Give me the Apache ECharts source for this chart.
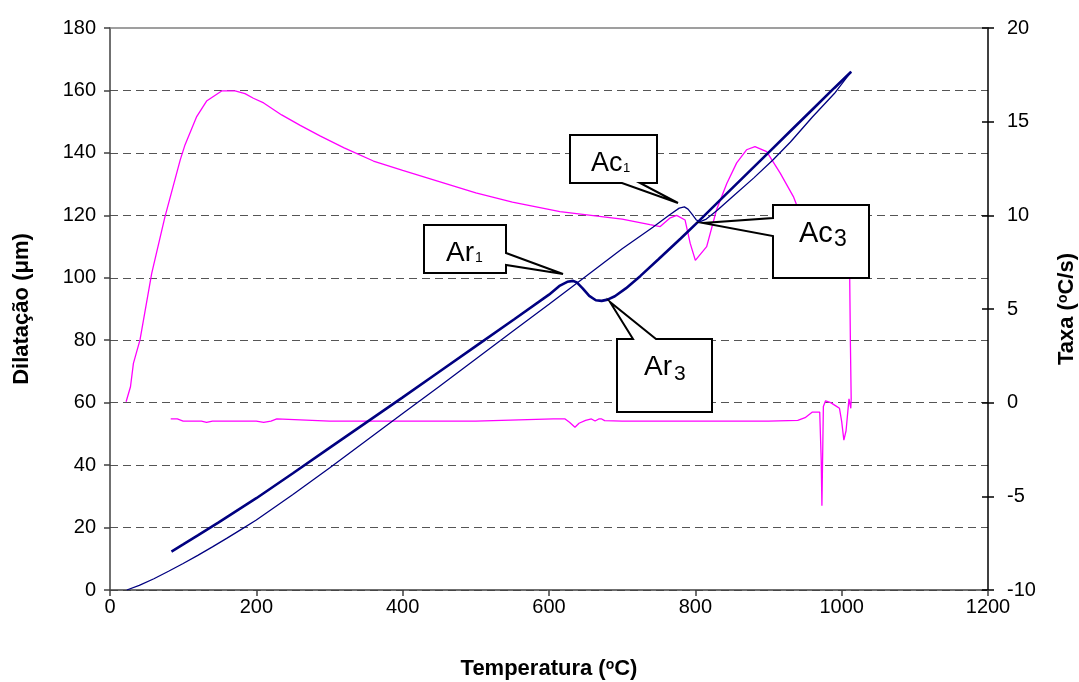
<!DOCTYPE html>
<html>
<head>
<meta charset="utf-8">
<script src="https://cdn.jsdelivr.net/npm/echarts@6/dist/echarts.min.js"></script>
<style>
    html,body{margin:0;padding:0;background:#fff;}
    #chart{width:1079px;height:682px;}
</style>
</head>
<body>
<div id="chart"></div>
<script>
// 加热曲线 (细线)
var tempHeat = [23, 40, 60, 80, 100, 120, 140, 160, 180, 200, 250, 300, 350, 400, 450, 500, 550, 600, 633, 660, 700, 742, 765, 778, 785, 790, 796, 801, 806, 815, 830, 850, 880, 906, 930, 960, 990, 1013];
var dilHeat = [0, 1.5, 3.6, 6.0, 8.5, 11.1, 13.8, 16.6, 19.5, 22.4, 30.6, 39.1, 47.8, 56.5, 65.2, 74.0, 82.8, 91.5, 97.4, 102.2, 109.3, 116.2, 120.2, 122.3, 122.7, 122, 120.2, 118.6, 117.9, 118.8, 121.6, 125.8, 132, 137.7, 143.5, 151.5, 159, 166];
// 冷却曲线 (粗线)
var tempCool = [1013, 990, 960, 930, 900, 870, 840, 804, 780, 750, 725, 705, 690, 680, 672, 664, 655, 646, 638, 633, 625, 615, 600, 553, 500, 450, 400, 350, 300, 250, 200, 148, 120, 100, 84];
var dilCool = [166, 160.8, 153.9, 147, 140.1, 133.2, 126.3, 118, 112.6, 106, 100.6, 96.6, 94.1, 93, 92.6, 92.8, 94.2, 96.6, 98.5, 99, 98.7, 97.5, 94.6, 86.8, 78.1, 69.9, 61.7, 53.6, 45.5, 37.4, 29.4, 21.6, 17.5, 14.6, 12.3];
// 速率 (右轴): 加热段 + 冷却段
var tempRate = [22, 28, 32, 41, 57, 75, 96, 102.5, 118.5, 132, 152.6, 171, 184.5, 196, 210, 234.6, 260, 287, 320, 360, 400, 450, 500, 550, 615, 700, 738, 752, 765, 774.5, 786, 793, 800, 815.5, 829, 843, 856.5, 870, 881.5, 897.5, 916, 934, 938.5, 960, 985, 1000, 1011, 1012, 1013,
    1012.5, 1010, 1006, 1003, 1000, 997, 993, 985, 978, 975, 973, 972, 970, 960, 950, 940, 900, 800, 700, 676, 672, 668, 663, 658, 650, 641, 635.5, 628, 622, 606, 500, 400, 300, 228, 220, 210, 200, 140, 132, 125, 100, 92, 83];
var rate = [0.05, 0.85, 2.1, 3.35, 6.9, 9.9, 12.96, 13.76, 15.27, 16.1, 16.64, 16.64, 16.5, 16.25, 16.0, 15.36, 14.8, 14.24, 13.6, 12.9, 12.4, 11.8, 11.2, 10.7, 10.2, 9.8, 9.5, 9.4, 9.85, 10.0, 9.75, 8.5, 7.6, 8.33, 10.3, 11.7, 12.8, 13.5, 13.67, 13.4, 12.25, 11.0, 10.55, 9.6, 8.3, 7.4, 6.64, 3, 0.2,
    -0.3, 0.2, -1.5, -2.0, -1.0, -0.3, -0.2, 0.0, 0.1, -0.2, -5.5, -3.0, -0.5, -0.5, -0.8, -0.95, -0.98, -0.98, -0.98, -0.96, -0.87, -0.87, -0.98, -0.87, -0.95, -1.1, -1.31, -1.05, -0.87, -0.87, -0.98, -0.98, -0.98, -0.87, -0.98, -1.05, -0.98, -0.98, -1.05, -0.98, -0.98, -0.87, -0.87];

var xTicks = {min: 0, max: 1200, interval: 200};
var yLeftTicks = {min: 0, max: 180, interval: 20};
var yRightTicks = {min: -10, max: 20, interval: 5};

function pairs(xs, ys) {
    var out = [];
    for (var i = 0; i < xs.length; i++) {
        out.push([xs[i], ys[i]]);
    }
    return out;
}
function plain(v) { return String(v); }

var font = "'Liberation Sans', Arial, sans-serif";
var supStyle = {fontSize: 14, fontWeight: 'bold', fontFamily: font, color: '#000', verticalAlign: 'top', lineHeight: 14, padding: [0, 0, 8, 0]};
var myChart = echarts.init(document.getElementById('chart'));
var option = {
    animation: false,
    textStyle: {fontFamily: font},
    grid: {left: 110, right: 91, top: 28, bottom: 92, containLabel: false, outerBoundsMode: 'none'},
    xAxis: [{
        type: 'value',
        min: xTicks.min, max: xTicks.max, interval: xTicks.interval,
        axisLine: {show: true, onZero: false, lineStyle: {color: '#404040', width: 1.5}},
        axisTick: {show: true, length: 6, lineStyle: {color: '#404040', width: 1.5}},
        axisLabel: {fontSize: 20, color: '#000', margin: 7, fontFamily: font, formatter: plain},
        splitLine: {show: false},
        name: 'Temperatura ({sup|o}C)',
        nameLocation: 'middle',
        nameGap: 68,
        nameTextStyle: {fontSize: 22, fontWeight: 'bold', color: '#000', fontFamily: font, rich: {sup: supStyle}}
    }, {
        type: 'value', position: 'top',
        min: xTicks.min, max: xTicks.max,
        axisLine: {show: true, onZero: false, lineStyle: {color: '#808080', width: 1.5}},
        axisTick: {show: false}, axisLabel: {show: false}, splitLine: {show: false}
    }],
    yAxis: [{
        type: 'value',
        min: yLeftTicks.min, max: yLeftTicks.max, interval: yLeftTicks.interval,
        axisLine: {show: true, onZero: false, lineStyle: {color: '#404040', width: 1.5}},
        axisTick: {show: true, length: 6, lineStyle: {color: '#404040', width: 1.5}},
        axisLabel: {fontSize: 20, color: '#000', margin: 14, fontFamily: font, formatter: plain},
        splitLine: {show: true, showMaxLine: false, lineStyle: {color: '#555', width: 1, type: [8, 5]}},
        name: 'Dilatação (μm)',
        nameLocation: 'middle',
        nameGap: 77,
        nameTextStyle: {fontSize: 22, fontWeight: 'bold', color: '#000', fontFamily: font}
    }, {
        type: 'value', position: 'right',
        min: yRightTicks.min, max: yRightTicks.max, interval: yRightTicks.interval,
        axisLine: {show: true, onZero: false, lineStyle: {color: '#000', width: 1.5}},
        axisTick: {show: true, length: 6, lineStyle: {color: '#000', width: 1.5}},
        axisLabel: {fontSize: 20, color: '#000', margin: 19, fontFamily: font, formatter: plain},
        splitLine: {show: false},
        name: 'Taxa ({sup|o}C/s)',
        nameLocation: 'middle',
        nameGap: 68,
        nameTextStyle: {fontSize: 22, fontWeight: 'bold', color: '#000', fontFamily: font, rich: {sup: supStyle}}
    }, {
        // 右轴刻度向内的一半 (交叉刻度)
        type: 'value', position: 'right',
        min: yRightTicks.min, max: yRightTicks.max, interval: yRightTicks.interval,
        axisLine: {show: false, onZero: false},
        axisTick: {show: true, inside: true, length: 6, lineStyle: {color: '#000', width: 1.5}},
        axisLabel: {show: false},
        splitLine: {show: false}
    }],
    series: [{
        name: 'Taxa',
        type: 'line',
        yAxisIndex: 1,
        showSymbol: false,
        lineStyle: {color: '#FF00FF', width: 1.3},
        data: pairs(tempRate, rate)
    }, {
        name: 'Aquecimento',
        type: 'line',
        showSymbol: false,
        lineStyle: {color: '#000080', width: 1.3},
        data: pairs(tempHeat, dilHeat)
    }, {
        name: 'Resfriamento',
        type: 'line',
        showSymbol: false,
        lineStyle: {color: '#000080', width: 2.6},
        data: pairs(tempCool, dilCool)
    }]
};
myChart.setOption(option);

// 标注框 (Ac1, Ac3, Ar1, Ar3)
function callout(points, parts) {
    var els = [{
        type: 'polygon', z: 100,
        shape: {points: points},
        style: {fill: '#fff', stroke: '#000', lineWidth: 2}
    }];
    parts.forEach(function (p) {
        els.push({
            type: 'text', z: 101,
            style: {x: p[0], y: p[1], text: p[2], fontSize: p[3], fontFamily: font, fill: '#000', align: 'left', verticalAlign: 'middle'}
        });
    });
    return els;
}
var graphics = [].concat(
    callout([[570, 135], [657, 135], [657, 183], [640, 183], [678, 203], [622, 183], [570, 183]],
        [[591, 164, 'Ac', 27], [623, 168.5, '1', 13]]),
    callout([[773, 205], [869, 205], [869, 278], [773, 278], [773, 236], [703, 223], [773, 218]],
        [[799, 233.5, 'Ac', 29], [834, 240, '3', 23]]),
    callout([[424, 225], [506, 225], [506, 253], [563, 274], [506, 265], [506, 273], [424, 273]],
        [[446, 253, 'Ar', 28], [475, 258, '1', 14]]),
    callout([[617, 339], [633, 339], [610, 302], [656, 339], [712, 339], [712, 412], [617, 412]],
        [[644, 367.5, 'Ar', 28], [674, 374, '3', 21]])
);
myChart.setOption({graphic: graphics});
</script>
</body>
</html>
